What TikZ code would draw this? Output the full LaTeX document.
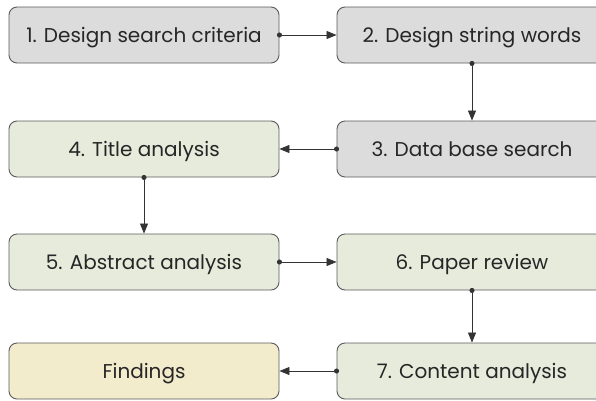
\documentclass[tikz,border=0pt]{standalone}
\usepackage{fontspec}
\setmainfont{Poppins}
\usetikzlibrary{arrows.meta}
\definecolor{stepgray}{HTML}{DCDCDC}
\definecolor{stepgreen}{HTML}{E6EBDC}
\definecolor{stepcream}{HTML}{F2EBCC}
\definecolor{edgegray}{HTML}{5A5A5A}
\definecolor{linkgray}{HTML}{333333}
\tikzset{
  stepbox/.style={draw=edgegray, line width=0.9pt, rounded corners=8pt,
    minimum width=270pt, minimum height=56pt, inner sep=0pt,
    text height=14pt, text depth=0pt,
    font=\fontsize{20}{24}\selectfont, text=black!85},
  link/.style={draw=linkgray, line width=0.8pt,
    {Circle[length=5pt]}-{Triangle[length=10pt,width=8pt]}, shorten <=-2.5pt}
}
\begin{document}
\begin{tikzpicture}[x=1pt,y=-1pt]
\useasboundingbox (0,0) rectangle (596,400);
\clip (0,0) rectangle (596,400);
\node[stepbox, fill=stepgray]  (s1) at (144,35)  {1. Design search criteria};
\node[stepbox, fill=stepgray]  (s2) at (472,35)  {2. Design string words};
\node[stepbox, fill=stepgray]  (s3) at (472,149) {3. Data base search};
\node[stepbox, fill=stepgreen] (s4) at (144,149) {4. Title analysis};
\node[stepbox, fill=stepgreen] (s5) at (144,262) {5. Abstract analysis};
\node[stepbox, fill=stepgreen] (s6) at (472,262) {6. Paper review};
\node[stepbox, fill=stepgreen] (s7) at (472,371) {7. Content analysis};
\node[stepbox, fill=stepcream] (fd) at (144,371) {Findings};
\draw[link] (s1.east) -- (s2.west);
\draw[link] (s2.south) -- (s3.north);
\draw[link] (s3.west) -- (s4.east);
\draw[link] (s4.south) -- (s5.north);
\draw[link] (s5.east) -- (s6.west);
\draw[link] (s6.south) -- (s7.north);
\draw[link] (s7.west) -- (fd.east);
\end{tikzpicture}
\end{document}
